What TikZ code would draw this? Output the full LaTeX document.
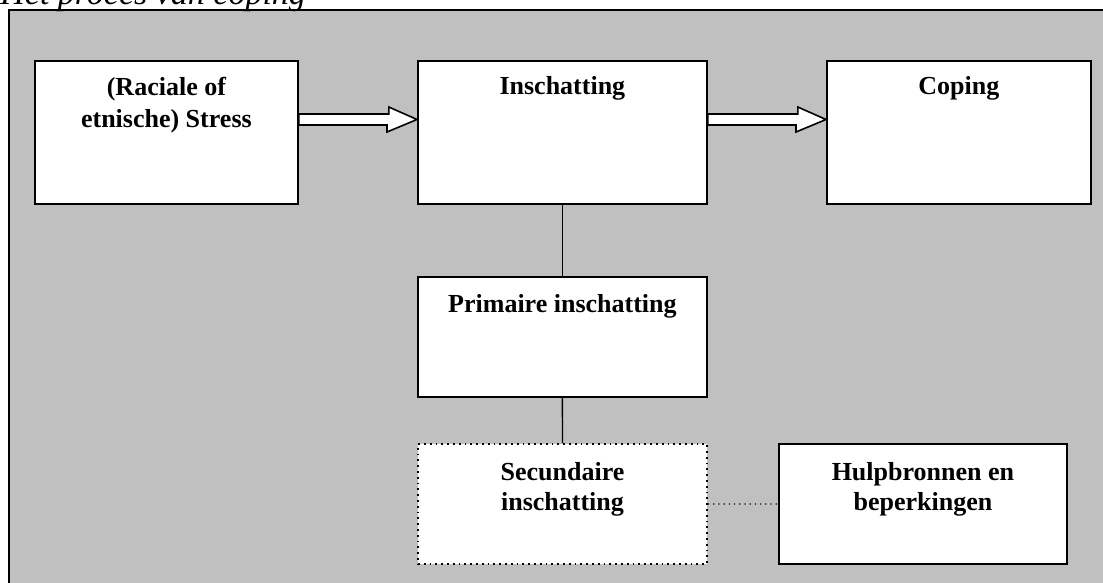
\documentclass[tikz,border=0pt]{standalone}
\usepackage{fontspec}
\setmainfont{Liberation Serif}
\usetikzlibrary{calc}
\definecolor{bggray}{HTML}{C0C0C0}
\tikzset{
  boxnode/.style={draw=black, line width=0.9pt, fill=white, anchor=north west, inner sep=0pt},
  dotbox/.style={boxnode, dotted, line width=1pt},
  txt/.style={font=\fontsize{13}{16}\selectfont\bfseries, align=center, anchor=base, inner sep=0pt},
  txtb/.style={font=\fontsize{13}{15}\selectfont\bfseries, align=center, anchor=base, inner sep=0pt},
  blockarrow/.style={draw=black, line width=0.8pt, fill=white, line join=miter},
  link/.style={draw=black, line width=0.7pt},
  dotlink/.style={draw=black, line width=0.6pt, dotted},
}
\begin{document}
\begin{tikzpicture}[x=0.5pt,y=-0.5pt]
\useasboundingbox (0,0) rectangle (1103,583);
\clip (0,0) rectangle (1103,583);
\draw[fill=bggray, draw=black, line width=1.2pt] (9,10) rectangle (1115,600);
\node[font=\fontsize{17}{20}\selectfont\itshape, anchor=base west, inner sep=0pt] (title) at (0,5) {Het proces van coping};
% boxes
\node[boxnode, minimum width=131.5pt, minimum height=71.5pt] (b1) at (34,60) {};
\node[boxnode, minimum width=144.5pt, minimum height=71.5pt] (b2) at (417,60) {};
\node[boxnode, minimum width=132pt, minimum height=71.5pt] (b3) at (826,60) {};
\node[boxnode, minimum width=144.5pt, minimum height=60pt] (b4) at (417,276) {};
\node[dotbox, minimum width=144.5pt, minimum height=60pt] (b5) at (417,443) {};
\node[boxnode, minimum width=144pt, minimum height=60pt] (b6) at (778,443) {};
% texts (base anchor = last line)
\node[txt] (t1) at ([yshift=-33.5pt]b1.north) {(Raciale of\\etnische) Stress};
\node[txt] (t2) at ([yshift=-17.5pt]b2.north) {Inschatting};
\node[txt] (t3) at ([yshift=-17.5pt]b3.north) {Coping};
\node[txt] (t4) at ([yshift=-18pt]b4.north) {Primaire inschatting};
\node[txtb] (t5) at ([yshift=-33.5pt]b5.north) {Secundaire\\inschatting};
\node[txtb] (t6) at ([yshift=-33.5pt]b6.north) {Hulpbronnen en\\beperkingen};
% block arrows
\draw[blockarrow] ([yshift=-27pt]b1.north east) -- ++(45pt,0) -- ++(0,3.5pt)
  -- ([yshift=-29.75pt]b2.north west) -- ++(-15pt,-6.25pt) -- ++(0,3.5pt)
  -- ([yshift=-32.5pt]b1.north east) -- cycle;
\draw[blockarrow] ([yshift=-27pt]b2.north east) -- ++(45pt,0) -- ++(0,3.5pt)
  -- ([yshift=-29.75pt]b3.north west) -- ++(-15pt,-6.25pt) -- ++(0,3.5pt)
  -- ([yshift=-32.5pt]b2.north east) -- cycle;
% connectors
\draw[link] (b2.south) -- (b4.north);
\draw[link] (b4.south) -- (b5.north);
\draw[dotlink] (b5.east) -- (b6.west);
\end{tikzpicture}
\end{document}
